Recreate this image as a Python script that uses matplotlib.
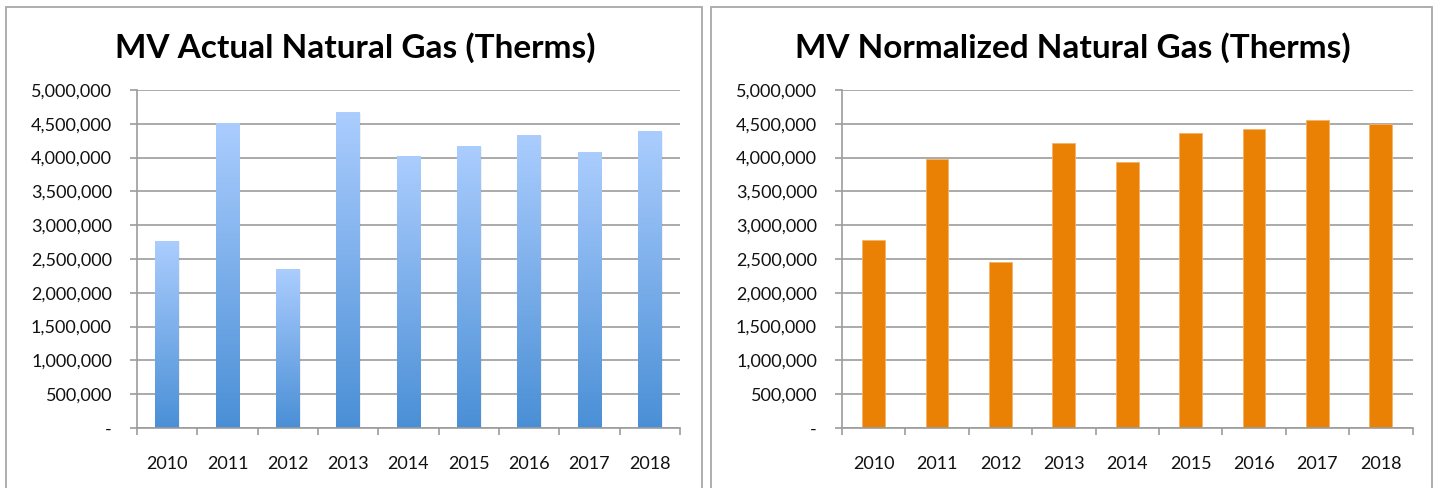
import matplotlib
matplotlib.use("Agg")
import matplotlib.pyplot as plt
import numpy as np
from matplotlib.patches import Rectangle
from matplotlib.colors import LinearSegmentedColormap
from matplotlib.ticker import FuncFormatter, MultipleLocator

years = ["2010", "2011", "2012", "2013", "2014", "2015", "2016", "2017", "2018"]
actual = [2760000, 4510000, 2350000, 4670000, 4010000, 4170000, 4330000, 4070000, 4380000]
normalized = [2780000, 3980000, 2450000, 4220000, 3940000, 4360000, 4420000, 4550000, 4500000]

title_left = "MV Actual Natural Gas (Therms)"
title_right = "MV Normalized Natural Gas (Therms)"

plt.rcParams['font.family'] = ['Lato', 'DejaVu Sans']

W, H = 1435, 488
fig = plt.figure(figsize=(W / 100, H / 100), dpi=100)

GRID = "#9c9c9c"
BORDER = "#a8a8a8"


def fx(px):
    return px / W


def fy(py):
    return 1 - py / H


# panel borders
for x0, x1 in [(6, 702), (711, 1432)]:
    fig.patches.append(Rectangle((fx(x0), fy(520)), fx(x1 - x0), fy(7) - fy(520),
                                 transform=fig.transFigure, fill=False,
                                 edgecolor=BORDER, linewidth=1.3))

fmt = FuncFormatter(lambda v, p: "-" if abs(v) < 1 else f"{v:,.0f}")


def style_axes(ax, title, title_x):
    ax.set_ylim(0, 5000000)
    ax.set_xlim(-0.5, len(years) - 0.5)
    ax.yaxis.set_major_locator(MultipleLocator(500000))
    ax.yaxis.set_major_formatter(fmt)
    ax.grid(axis="y", color=GRID, linewidth=1.2, zorder=0)
    ax.set_axisbelow(True)
    for s in ["top", "right"]:
        ax.spines[s].set_visible(False)
    for s in ["left", "bottom"]:
        ax.spines[s].set_color(GRID)
        ax.spines[s].set_linewidth(1.2)
    ax.set_xticks(range(len(years)))
    ax.set_xticklabels(years)
    ax.set_xticks(np.arange(-0.5, len(years), 1.0), minor=True)
    ax.tick_params(axis="x", which="major", length=0, pad=20, labelsize=13, labelcolor="#111111")
    ax.tick_params(axis="x", which="minor", length=5, width=1.2, color=GRID, direction="out")
    ax.tick_params(axis="y", length=5, width=1.2, color=GRID, pad=13, labelsize=13, labelcolor="#111111")
    fig.text(fx(title_x), fy(48), title, ha="center", va="center",
             fontsize=24, fontweight="bold", color="#000000")


# left
axL = fig.add_axes([fx(137), fy(428), fx(680 - 137), fy(90) - fy(428)])
style_axes(axL, title_left, 355)
bars = axL.bar(range(len(years)), actual, width=0.39, color="none", edgecolor="none", zorder=2)
cmap = LinearSegmentedColormap.from_list("blu", ["#4a8fd6", "#abcdfe"])
grad = np.linspace(0, 1, 256).reshape(-1, 1)
for b in bars:
    x0 = b.get_x()
    w = b.get_width()
    h = b.get_height()
    # soft shadow
    axL.add_patch(Rectangle((x0 + 0.02, 0), w, h - 15000, facecolor="#000000", alpha=0.06,
                            edgecolor="none", zorder=1.5))
    axL.imshow(grad, extent=[x0, x0 + w, 0, h], origin="lower", cmap=cmap,
               aspect="auto", zorder=2, interpolation="bilinear")
axL.set_xlim(-0.5, len(years) - 0.5)
axL.set_ylim(0, 5000000)
axL.set_aspect("auto")

# right
axR = fig.add_axes([fx(842), fy(428), fx(1412.5 - 842), fy(90) - fy(428)])
style_axes(axR, title_right, 1073)
axR.bar(range(len(years)), normalized, width=0.36, color="#ea8105",
        edgecolor="#f3b468", linewidth=0.6, zorder=2)

fig.savefig("out.png", dpi=100)
